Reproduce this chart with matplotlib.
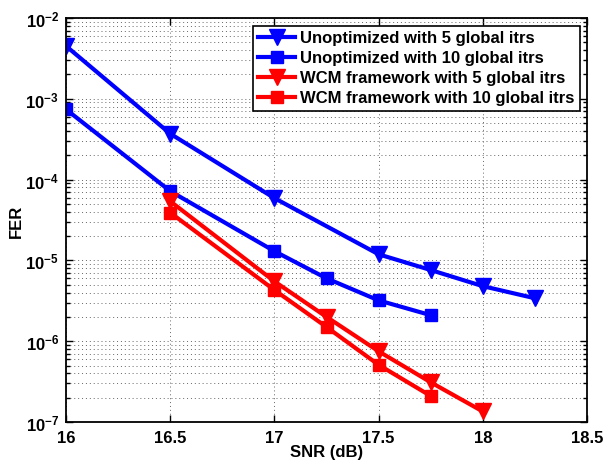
import matplotlib
matplotlib.use('Agg')
import matplotlib.pyplot as plt
import matplotlib.ticker as mticker

# SNR points (dB) and frame error rates for each decoder setting
snr_unopt5 = [16.0, 16.5, 17.0, 17.5, 17.75, 18.0, 18.25]
fer_unopt5 = [4.5e-3, 3.7e-4, 5.9e-5, 1.19e-5, 7.6e-6, 4.8e-6, 3.4e-6]

snr_unopt10 = [16.0, 16.5, 17.0, 17.25, 17.5, 17.75]
fer_unopt10 = [7.4e-4, 7.2e-5, 1.3e-5, 6.0e-6, 3.2e-6, 2.1e-6]

snr_wcm5 = [16.5, 17.0, 17.25, 17.5, 17.75, 18.0]
fer_wcm5 = [5.4e-5, 5.5e-6, 2.0e-6, 7.5e-7, 3.1e-7, 1.35e-7]

snr_wcm10 = [16.5, 17.0, 17.25, 17.5, 17.75]
fer_wcm10 = [3.9e-5, 4.3e-6, 1.5e-6, 5.1e-7, 2.1e-7]

labels = ['Unoptimized with 5 global itrs',
          'Unoptimized with 10 global itrs',
          'WCM framework with 5 global itrs',
          'WCM framework with 10 global itrs']

plt.rcParams['font.family'] = ['Liberation Sans', 'DejaVu Sans']
plt.rcParams['font.weight'] = 'bold'
plt.rcParams['mathtext.default'] = 'bf'

fig = plt.figure(figsize=(6.05, 4.64), dpi=100)
ax = fig.add_axes([66 / 605, 41 / 464, 521 / 605, 404 / 464])

blue = '#0000ff'
red = '#ff0000'
ax.semilogy(snr_unopt5, fer_unopt5, color=blue, lw=3, marker='v', ms=11, label=labels[0])
ax.semilogy(snr_unopt10, fer_unopt10, color=blue, lw=3, marker='s', ms=8, label=labels[1])
ax.semilogy(snr_wcm5, fer_wcm5, color=red, lw=3, marker='v', ms=11, label=labels[2])
ax.semilogy(snr_wcm10, fer_wcm10, color=red, lw=3, marker='s', ms=8, label=labels[3])

ax.set_xlim(16, 18.5)
ax.set_ylim(1e-7, 1e-2)
ax.xaxis.set_major_locator(mticker.MultipleLocator(0.5))
ax.xaxis.set_major_formatter(mticker.FuncFormatter(lambda v, p: f'{v:g}'))
ax.yaxis.set_major_locator(mticker.LogLocator(base=10, numticks=10))
ax.yaxis.set_minor_locator(mticker.LogLocator(base=10, subs=range(2, 10), numticks=20))
ax.yaxis.set_minor_formatter(mticker.NullFormatter())

ax.grid(True, which='major', axis='both', color='#666666', ls=(0, (1, 3)), lw=0.7)
ax.grid(True, which='minor', axis='y', color='#666666', ls=(0, (1, 3)), lw=0.7)

ax.tick_params(which='both', direction='in', top=True, right=True, labelsize=12, width=1)
ax.tick_params(which='major', length=5)
ax.tick_params(which='minor', length=3)
ax.tick_params(axis='x', pad=6)
ax.tick_params(axis='y', pad=5)
for s in ax.spines.values():
    s.set_linewidth(1.3)

ax.set_xlabel('SNR (dB)', fontsize=12, fontweight='bold', labelpad=-1)
ax.set_ylabel('FER', fontsize=12, fontweight='bold')
ax.yaxis.set_label_coords(-0.08, 0.5)

leg = ax.legend(loc='upper right', prop={'weight': 'bold', 'size': 12},
                fancybox=False, edgecolor='black', framealpha=1,
                handlelength=2.2, handletextpad=0.3, labelspacing=0.3,
                borderpad=0.3, borderaxespad=0.45)
leg.get_frame().set_linewidth(1.2)

fig.savefig('out.png', dpi=100)
